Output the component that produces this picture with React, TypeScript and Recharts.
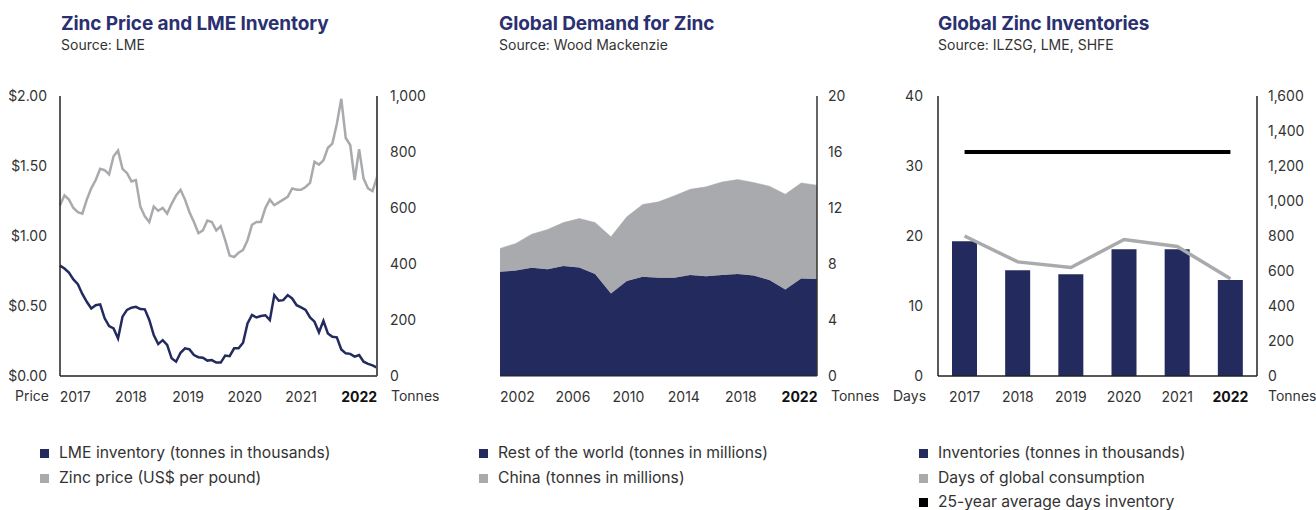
import React from 'react';
import { LineChart, Line, XAxis, YAxis, AreaChart, Area, ComposedChart, Bar } from 'recharts';

const NAVY = '#232a5e';
const GREY = '#a8aaad';
const TITLE = '#2a3070';
const TEXT = '#333333';
const FONT = 'Inter, Roboto, "Liberation Sans", sans-serif';

// ---------- Chart 1: Zinc price and LME inventory ----------
const priceYearLabels = ['2017', '2018', '2019', '2020', '2021', '2022'];
const priceYearTicks = [3.4, 15.9, 28.7, 41.4, 54, 67];
const zincPrice = [
  1.22, 1.29, 1.26, 1.2, 1.17, 1.16, 1.26, 1.34, 1.4, 1.48,
  1.47, 1.44, 1.57, 1.61, 1.48, 1.45, 1.39, 1.4, 1.21, 1.14,
  1.1, 1.21, 1.18, 1.2, 1.16, 1.23, 1.29, 1.33, 1.26, 1.17,
  1.1, 1.02, 1.04, 1.11, 1.1,
  1.04, 1.07, 0.97, 0.86, 0.85, 0.88, 0.9, 0.97, 1.08, 1.1,
  1.1, 1.2, 1.26, 1.22, 1.24, 1.26, 1.28, 1.34, 1.33, 1.33,
  1.35, 1.38, 1.53, 1.51, 1.54, 1.63, 1.66, 1.8, 1.98, 1.7,
  1.65, 1.4, 1.62, 1.41, 1.34, 1.32, 1.42,
];
const lmeInventory = [
  394, 384, 369, 345, 328, 293, 265, 241, 253, 256,
  206, 178, 170, 134, 212, 236, 244, 247, 239, 238,
  200, 146, 114, 128, 111, 63, 51, 83, 99, 95,
  75, 67, 65, 55, 57,
  48, 48, 73, 71, 99, 99, 119, 188, 218, 209,
  214, 217, 200, 289, 269, 271, 289, 277, 253, 245,
  236, 209, 194, 156, 197, 152, 140, 138, 95, 81,
  79, 69, 75, 51, 43, 38, 30,
];
const priceData = zincPrice.map((p, i) => ({ i, price: p, inventory: lmeInventory[i] }));

// ---------- Chart 2: Global demand for zinc ----------
const demandYears = [
  '2002', '2003', '2004', '2005', '2006', '2007', '2008', '2009', '2010', '2011', '2012',
  '2013', '2014', '2015', '2016', '2017', '2018', '2019', '2020', '2021', '2022',
];
const demandYearLabels = ['2002', '2006', '2010', '2014', '2018', '2022'];
const demandYearTicks = [1.1, 4.6, 8.1, 11.6, 15.2, 18.9];
const restOfWorld = [
  7.44, 7.54, 7.73, 7.63, 7.85, 7.75, 7.28, 5.9, 6.78, 7.09, 7.02,
  7.02, 7.21, 7.13, 7.21, 7.28, 7.18, 6.85, 6.18, 6.97, 6.92,
];
const china = [
  1.67, 1.93, 2.4, 2.83, 3.11, 3.5, 3.68, 4.04, 4.59, 5.16, 5.42,
  5.85, 6.13, 6.38, 6.65, 6.75, 6.64, 6.71, 6.8, 6.82, 6.71,
];
const demandData = demandYears.map((y, i) => ({ i, year: y, row: restOfWorld[i], china: china[i] }));

// ---------- Chart 3: Global zinc inventories ----------
const invYears = ['2017', '2018', '2019', '2020', '2021', '2022'];
const inventories = [770, 605, 582, 725, 725, 548];
const daysConsumption = [20, 16.3, 15.5, 19.5, 18.5, 13.9];
const avgDays = [32, 32, 32, 32, 32, 32];
const invData = invYears.map((y, i) => ({
  year: y,
  inv: inventories[i],
  days: daysConsumption[i],
  avg: avgDays[i],
}));

const tickStyle = { fill: TEXT, fontSize: 14, fontFamily: FONT };

const makeYearTick = (labels: string[]) => (props: any) => {
  const { x, y, index } = props;
  const label = labels[index];
  const bold = index === labels.length - 1;
  return (
    <text
      x={x}
      y={y + 26}
      textAnchor="middle"
      fill={bold ? '#111' : TEXT}
      fontSize={14}
      fontWeight={bold ? 700 : 400}
      fontFamily={FONT}
    >
      {label}
    </text>
  );
};

const CatTick = (props: any) => {
  const { x, y, payload } = props;
  const bold = payload.value === '2022';
  return (
    <text
      x={x}
      y={y + 26}
      textAnchor="middle"
      fill={bold ? '#111' : TEXT}
      fontSize={14}
      fontWeight={bold ? 700 : 400}
      fontFamily={FONT}
    >
      {payload.value}
    </text>
  );
};

const fmtThousands = (v: number) => v.toLocaleString('en-US');

const Abs = ({ left, top, children, style }: any) => (
  <div style={{ position: 'absolute', left, top, whiteSpace: 'nowrap', fontFamily: FONT, lineHeight: 1.2, ...style }}>{children}</div>
);

const Title = ({ left, title, source }: any) => (
  <>
    <Abs left={left} top={13} style={{ fontSize: 19, fontWeight: 700, color: TITLE, letterSpacing: -0.1 }}>
      {title}
    </Abs>
    <Abs left={left} top={36.5} style={{ fontSize: 14, color: TEXT }}>
      {source}
    </Abs>
  </>
);

const LegendRow = ({ left, top, color, label }: any) => (
  <>
    <div style={{ position: 'absolute', left, top: top - 4.5, width: 9, height: 9, background: color }} />
    <Abs left={left + 19} top={top - 8} style={{ fontSize: 15.7, color: TEXT, lineHeight: 1 }}>
      {label}
    </Abs>
  </>
);

const AxisWord = ({ left, top, children }: any) => (
  <Abs left={left} top={top} style={{ fontSize: 14, color: TEXT }}>
    {children}
  </Abs>
);

export default function App() {
  return (
    <div
      style={{
        position: 'absolute',
        left: 0,
        top: 0,
        width: 1316,
        height: 510,
        background: '#fff',
        overflow: 'hidden',
        fontFamily: FONT,
      }}
    >
      <Title left={61} title="Zinc Price and LME Inventory" source="Source: LME" />
      <Title left={499} title="Global Demand for Zinc" source="Source: Wood Mackenzie" />
      <Title left={938} title="Global Zinc Inventories" source="Source: ILZSG, LME, SHFE" />

      {/* Chart 1 */}
      <div style={{ position: 'absolute', left: 0, top: 80 }}>
        <LineChart width={440} height={330} data={priceData} margin={{ top: 16, right: 8, left: 0, bottom: 4 }}>
          <XAxis
            dataKey="i"
            type="number"
            domain={[0, 71]}
            ticks={priceYearTicks}
            interval={0}
            tick={makeYearTick(priceYearLabels)}
            tickLine={false}
            tickSize={0}
            tickMargin={0}
            height={30}
            axisLine={{ stroke: '#222', strokeWidth: 1.5 }}
          />
          <YAxis
            yAxisId="price"
            orientation="left"
            width={60}
            domain={[0, 2]}
            ticks={[0, 0.5, 1, 1.5, 2]}
            tickFormatter={(v: number) => `$${v.toFixed(2)}`}
            tick={tickStyle}
            tickLine={false}
            tickSize={0}
            tickMargin={13}
            axisLine={{ stroke: '#222', strokeWidth: 1.5 }}
          />
          <YAxis
            yAxisId="inv"
            orientation="right"
            width={55}
            domain={[0, 1000]}
            ticks={[0, 200, 400, 600, 800, 1000]}
            tickFormatter={fmtThousands}
            tick={{ ...tickStyle, textAnchor: 'start' }}
            tickLine={false}
            tickSize={0}
            tickMargin={13}
            axisLine={{ stroke: '#555', strokeWidth: 2 }}
          />
          <Line
            yAxisId="price"
            dataKey="price"
            type="linear"
            stroke={GREY}
            strokeWidth={2.5}
            dot={false}
            isAnimationActive={false}
          />
          <Line
            yAxisId="inv"
            dataKey="inventory"
            type="linear"
            stroke={NAVY}
            strokeWidth={2.5}
            dot={false}
            isAnimationActive={false}
          />
        </LineChart>
      </div>
      <AxisWord left={15} top={388}>Price</AxisWord>
      <AxisWord left={391} top={388}>Tonnes</AxisWord>

      {/* Chart 2 */}
      <div style={{ position: 'absolute', left: 440, top: 80 }}>
        <AreaChart width={440} height={330} data={demandData} margin={{ top: 16, right: 8, left: 60, bottom: 4 }}>
          <XAxis
            dataKey="i"
            type="number"
            domain={[0, 20]}
            ticks={demandYearTicks}
            interval={0}
            tick={makeYearTick(demandYearLabels)}
            tickLine={false}
            tickSize={0}
            tickMargin={0}
            height={30}
            axisLine={{ stroke: '#222', strokeWidth: 1 }}
          />
          <YAxis
            orientation="right"
            width={55}
            domain={[0, 20]}
            ticks={[0, 4, 8, 12, 16, 20]}
            tick={{ ...tickStyle, textAnchor: 'start' }}
            tickLine={false}
            tickSize={0}
            tickMargin={11}
            axisLine={{ stroke: '#333', strokeWidth: 1.5 }}
          />
          <Area
            dataKey="row"
            stackId="d"
            type="linear"
            stroke={NAVY}
            strokeWidth={0.5}
            fill={NAVY}
            fillOpacity={1}
            isAnimationActive={false}
          />
          <Area
            dataKey="china"
            stackId="d"
            type="linear"
            stroke={GREY}
            strokeWidth={0.5}
            fill={GREY}
            fillOpacity={1}
            isAnimationActive={false}
          />
        </AreaChart>
      </div>
      <AxisWord left={831} top={388}>Tonnes</AxisWord>

      {/* Chart 3 */}
      <div style={{ position: 'absolute', left: 880, top: 80 }}>
        <ComposedChart width={436} height={330} data={invData} margin={{ top: 16, right: 4, left: 0, bottom: 4 }}>
          <XAxis
            dataKey="year"
            tick={CatTick}
            interval={0}
            tickLine={false}
            tickSize={0}
            tickMargin={0}
            height={30}
            axisLine={{ stroke: '#222', strokeWidth: 1.5 }}
          />
          <YAxis
            yAxisId="days"
            orientation="left"
            width={58}
            domain={[0, 40]}
            ticks={[0, 10, 20, 30, 40]}
            tick={tickStyle}
            tickLine={false}
            tickSize={0}
            tickMargin={15}
            axisLine={{ stroke: '#222', strokeWidth: 1.5 }}
          />
          <YAxis
            yAxisId="tonnes"
            orientation="right"
            width={55}
            domain={[0, 1600]}
            ticks={[0, 200, 400, 600, 800, 1000, 1200, 1400, 1600]}
            tickFormatter={fmtThousands}
            tick={{ ...tickStyle, textAnchor: 'start' }}
            tickLine={false}
            tickSize={0}
            tickMargin={11}
            axisLine={{ stroke: '#222', strokeWidth: 1.5 }}
          />
          <Bar yAxisId="tonnes" dataKey="inv" fill={NAVY} barSize={25} isAnimationActive={false} />
          <Line
            yAxisId="days"
            dataKey="days"
            type="linear"
            stroke={GREY}
            strokeWidth={3.5}
            dot={false}
            isAnimationActive={false}
          />
          <Line
            yAxisId="days"
            dataKey="avg"
            type="linear"
            stroke="#000"
            strokeWidth={4}
            dot={false}
            isAnimationActive={false}
          />
        </ComposedChart>
      </div>
      <AxisWord left={893} top={388}>Days</AxisWord>
      <AxisWord left={1268} top={388}>Tonnes</AxisWord>

      {/* Legends */}
      <LegendRow left={40} top={453} color={NAVY} label="LME inventory (tonnes in thousands)" />
      <LegendRow left={40} top={478} color={GREY} label="Zinc price (US$ per pound)" />
      <LegendRow left={479} top={453} color={NAVY} label="Rest of the world (tonnes in millions)" />
      <LegendRow left={479} top={478} color={GREY} label="China (tonnes in millions)" />
      <LegendRow left={919} top={453} color={NAVY} label="Inventories (tonnes in thousands)" />
      <LegendRow left={919} top={478} color={GREY} label="Days of global consumption" />
      <LegendRow left={919} top={502} color="#000" label="25-year average days inventory" />
    </div>
  );
}
